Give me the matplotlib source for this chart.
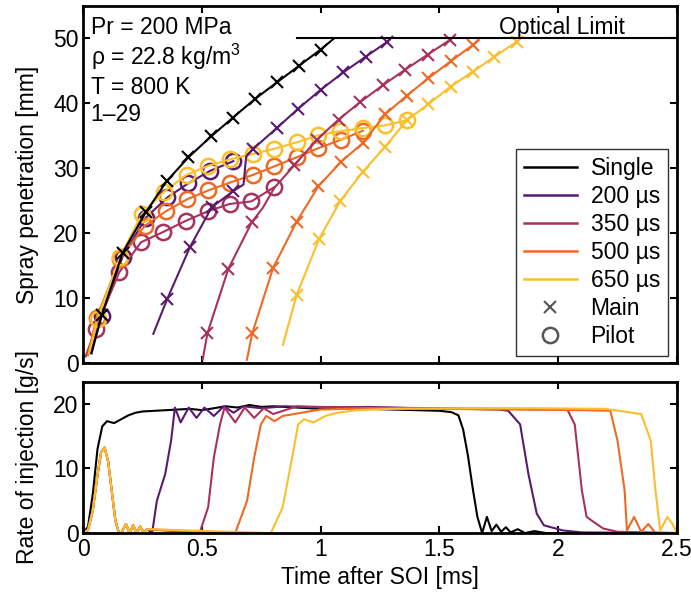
import numpy as np
import matplotlib
matplotlib.use('Agg')
import matplotlib.pyplot as plt
from matplotlib.lines import Line2D

plt.rcParams['font.family'] = ['Liberation Sans', 'DejaVu Sans']
plt.rcParams['mathtext.fontset'] = 'custom'
plt.rcParams['mathtext.rm'] = 'Liberation Sans'
plt.rcParams['mathtext.it'] = 'Liberation Sans:italic'
plt.rcParams['font.size'] = 16

labels = ['Single', '200 µs', '350 µs', '500 µs', '650 µs']
colors = ['black', '#5b1a70', '#a8325e', '#ee6a24', '#fbbf2c']

# spray penetration, main injection (line points and marker points)
single_t = [0.035, 0.0775, 0.166, 0.263, 0.351, 0.443, 0.538, 0.630, 0.724, 0.818, 0.909, 1.0, 1.056]
single_y = [1.5, 7.35, 17.0, 23.2, 28.0, 31.7, 34.9, 37.8, 40.7, 43.3, 45.8, 48.3, 50.0]
single_mk = [1, 2, 3, 4, 5, 6, 7, 8, 9, 10, 11]

main200_t = [0.295, 0.354, 0.450, 0.541, 0.632, 0.675, 0.686, 0.716, 0.815, 0.906, 1.0, 1.096, 1.19, 1.281, 1.29]
main200_y = [4.5, 9.9, 17.9, 24.0, 26.5, 27.5, 31.8, 33.0, 36.2, 39.2, 42.1, 44.8, 47.2, 49.5, 49.8]
main200_mk = [1, 2, 3, 4, 7, 8, 9, 10, 11, 12, 13]

main350_t = [0.503, 0.523, 0.611, 0.71, 0.756, 0.805, 0.868, 0.889, 0.984, 1.075, 1.166, 1.262, 1.356, 1.45, 1.545]
main350_y = [0.5, 4.6, 14.5, 21.7, 23.9, 27.0, 29.6, 30.5, 34.4, 37.5, 40.2, 42.8, 45.2, 47.5, 49.8]
main350_mk = [1, 2, 3, 7, 8, 9, 10, 11, 12, 13, 14]

main500_t = [0.689, 0.712, 0.80, 0.899, 0.99, 1.085, 1.178, 1.271, 1.363, 1.454, 1.548, 1.641, 1.665]
main500_y = [0.5, 4.6, 14.7, 21.8, 27.2, 31.0, 33.9, 38.3, 41.2, 43.9, 46.5, 49.0, 49.7]
main500_mk = [1, 2, 3, 4, 5, 6, 7, 8, 9, 10, 11]

main650_t = [0.841, 0.899, 0.993, 1.083, 1.178, 1.271, 1.363, 1.454, 1.548, 1.641, 1.732, 1.826, 1.84]
main650_y = [2.8, 10.5, 19.1, 25.0, 29.5, 33.3, 37.4, 39.9, 42.6, 44.9, 47.2, 49.5, 50.0]
main650_mk = [1, 2, 3, 4, 5, 6, 7, 8, 9, 10, 11]

# spray penetration, pilot injection (first point is line start only)
pilot200_t = [0.03, 0.0775, 0.166, 0.264, 0.354, 0.443, 0.534, 0.632]
pilot200_y = [1.5, 7.3, 16.4, 22.4, 25.5, 27.7, 29.6, 31.1]

pilot350_t = [0.01, 0.052, 0.152, 0.243, 0.337, 0.431, 0.527, 0.616, 0.708, 0.805]
pilot350_y = [1.0, 5.3, 14.0, 18.6, 20.2, 21.9, 23.4, 24.5, 24.9, 27.1]

pilot500_t = [0.02, 0.056, 0.155, 0.258, 0.349, 0.436, 0.527, 0.618, 0.716, 0.805, 0.899, 0.99, 1.086, 1.178]
pilot500_y = [1.2, 7.0, 16.0, 21.1, 23.4, 25.2, 26.6, 27.8, 29.0, 30.3, 31.7, 33.1, 34.4, 35.8]

pilot650_t = [0.025, 0.06, 0.155, 0.246, 0.34, 0.436, 0.527, 0.62, 0.714, 0.805, 0.899, 0.99, 1.08, 1.177, 1.27, 1.363]
pilot650_y = [1.5, 6.8, 16.3, 22.9, 26.4, 29.0, 30.4, 31.4, 32.2, 33.0, 34.0, 35.1, 35.7, 36.2, 36.6, 37.4]

# rate of injection
single_rt = [0.0, 0.02, 0.04, 0.06, 0.08, 0.1, 0.13, 0.16, 0.19, 0.22, 0.25, 0.3, 0.35, 0.4, 0.45,
             0.5, 0.55, 0.6, 0.65, 0.7, 0.75, 0.8, 0.9, 1.0, 1.1, 1.2, 1.3, 1.4, 1.5, 1.55, 1.58,
             1.6, 1.62, 1.64, 1.66, 1.68, 1.7, 1.72, 1.74, 1.76, 1.78, 1.8, 1.83, 1.86, 1.9, 1.95, 2.0, 2.5]
single_r = [0.0, 1.0, 6.0, 13.0, 16.5, 17.3, 17.0, 17.6, 18.2, 18.6, 18.8, 18.9, 19.0, 19.1, 19.2,
            19.0, 19.3, 19.6, 19.4, 19.8, 19.5, 19.6, 19.4, 19.2, 19.3, 19.2, 19.1, 19.0, 18.9, 18.7, 18.2,
            16.0, 12.0, 7.0, 2.5, 0.0, 2.5, 0.3, 1.3, 0.2, 0.9, 0.1, 0.6, 0.0, 0.3, 0.0, 0.0, 0.0]

pilot_rt = [0.0, 0.02, 0.04, 0.06, 0.075, 0.09, 0.105, 0.12, 0.135, 0.15, 0.16, 0.18, 0.195, 0.21,
            0.225, 0.24, 0.255, 0.27]
pilot_r = [0.0, 0.5, 3.5, 9.0, 12.5, 13.2, 11.0, 6.5, 2.0, 0.0, 0.0, 1.4, 0.0, 1.2, 0.0, 1.0, 0.0, 0.6]

main200_rt = [0.29, 0.31, 0.345, 0.37, 0.386, 0.41, 0.444, 0.477, 0.51, 0.55, 0.592, 0.633, 0.674,
              0.75, 0.85, 1.0, 1.2, 1.4, 1.6, 1.75, 1.79, 1.84, 1.875, 1.91, 1.94, 1.98, 2.02, 2.1, 2.5]
main200_r = [0.0, 5.0, 9.1, 14.3, 19.4, 17.1, 19.4, 17.8, 19.4, 18.1, 19.6, 18.6, 19.6,
             19.3, 19.6, 19.4, 19.5, 19.3, 19.2, 19.1, 18.9, 16.8, 9.1, 3.0, 1.2, 0.8, 0.4, 0.1, 0.0]

main350_rt = [0.49, 0.526, 0.55, 0.576, 0.595, 0.64, 0.68, 0.72, 0.76, 0.8, 0.9, 1.0, 1.2, 1.5, 1.8,
              2.0, 2.04, 2.07, 2.1, 2.12, 2.15, 2.19, 2.25, 2.5]
main350_r = [0.0, 4.0, 11.7, 16.8, 19.4, 17.1, 19.4, 17.8, 19.3, 18.4, 19.6, 19.5, 19.4, 19.3, 19.2,
             19.1, 19.0, 16.8, 6.6, 2.5, 1.7, 0.7, 0.2, 0.0]

main500_rt = [0.64, 0.69, 0.72, 0.748, 0.77, 0.806, 0.84, 0.888, 0.95, 1.0, 1.2, 1.5, 1.8, 2.1, 2.22,
              2.25, 2.28, 2.29, 2.32, 2.35, 2.38, 2.41, 2.5]
main500_r = [0.0, 5.0, 11.7, 16.8, 18.1, 17.3, 18.1, 18.4, 18.8, 19.1, 19.3, 19.2, 19.1, 19.0, 18.9,
             14.3, 6.6, 0.4, 2.5, 0.2, 1.4, 0.0, 0.0]

main650_rt = [0.79, 0.84, 0.88, 0.905, 0.93, 0.97, 1.02, 1.07, 1.15, 1.3, 1.6, 1.9, 2.2, 2.35, 2.39,
              2.41, 2.43, 2.46, 2.48, 2.5]
main650_r = [0.0, 4.0, 11.7, 16.8, 17.6, 17.1, 18.1, 18.6, 19.0, 19.2, 19.3, 19.3, 19.2, 18.4, 14.3,
             6.6, 0.4, 2.5, 1.5, 0.0]

main_t = [single_t, main200_t, main350_t, main500_t, main650_t]
main_y = [single_y, main200_y, main350_y, main500_y, main650_y]
main_mk = [single_mk, main200_mk, main350_mk, main500_mk, main650_mk]
pilot_t = [pilot200_t, pilot350_t, pilot500_t, pilot650_t]
pilot_y = [pilot200_y, pilot350_y, pilot500_y, pilot650_y]
main_rt = [main200_rt, main350_rt, main500_rt, main650_rt]
main_r = [main200_r, main350_r, main500_r, main650_r]

fig = plt.figure(figsize=(6.91, 6.03), dpi=100)
ax1 = fig.add_axes([0.1205, 0.398, 0.859, 0.592])
ax2 = fig.add_axes([0.1205, 0.116, 0.859, 0.251])

# pilot penetration first, main on top
for i in range(4):
    ax1.plot(pilot_t[i], pilot_y[i], color=colors[i + 1], lw=1.5, marker='o', ms=11,
             mfc='none', mew=1.8, markevery=list(range(1, len(pilot_t[i]))))
for i in range(5):
    ax1.plot(main_t[i], main_y[i], color=colors[i], lw=1.5, marker='x', ms=8, mew=1.5,
             markevery=main_mk[i], label=labels[i])

ax1.plot([0.9, 2.5], [50, 50], color='black', lw=1.5)
ax1.text(1.749, 50.66, 'Optical Limit', ha='left', va='baseline', fontsize=16.5)

info = ['Pr = 200 MPa', r'ρ = 22.8 kg/m$^3$', 'T = 800 K', '1–29']
info_y = [0.921, 0.835, 0.754, 0.679]
for s, yy in zip(info, info_y):
    ax1.text(0.0125, yy, s, transform=ax1.transAxes, ha='left', va='baseline', fontsize=16.5)

ax1.set_xlim(0, 2.5)
ax1.set_ylim(0, 55)
ax1.set_yticks([0, 10, 20, 30, 40, 50])
ax1.set_xticks([0, 0.5, 1, 1.5, 2, 2.5])
ax1.set_xticklabels([])
ax1.set_ylabel('Spray penetration [mm]', fontsize=16.5)

handles = [Line2D([], [], color=c, lw=1.8) for c in colors]
handles.append(Line2D([], [], color='#555555', ls='none', marker='x', ms=8, mew=1.5))
handles.append(Line2D([], [], color='#555555', ls='none', marker='o', ms=11, mfc='none', mew=1.8))
leg = ax1.legend(handles, labels + ['Main', 'Pilot'], loc='lower right',
                 bbox_to_anchor=(0.985, 0.02), fontsize=16.5, frameon=True, fancybox=False,
                 edgecolor='black', labelspacing=0.22, handlelength=2.3, handletextpad=0.6,
                 borderpad=0.35, borderaxespad=0)
leg.get_frame().set_linewidth(1.0)

# injection rate
ax2.plot(single_rt, single_r, color=colors[0], lw=1.5)
for i in range(4):
    ax2.plot(pilot_rt + main_rt[i], pilot_r + main_r[i], color=colors[i + 1], lw=1.5)
ax2.set_xlim(0, 2.5)
ax2.set_ylim(0, 23.4)
ax2.set_yticks([0, 10, 20])
ax2.set_xticks([0, 0.5, 1, 1.5, 2, 2.5])
ax2.set_xticklabels(['0', '0.5', '1', '1.5', '2', '2.5'])
ax2.set_xlabel('Time after SOI [ms]', fontsize=16.5)
ax2.set_ylabel('Rate of injection [g/s]', fontsize=16.5)

for ax in (ax1, ax2):
    ax.tick_params(direction='in', top=True, right=True, length=5, width=1.5, labelsize=16.5)
    for sp in ax.spines.values():
        sp.set_linewidth(2)
    ax.yaxis.set_label_coords(-0.075, 0.5)

fig.savefig('out.png', dpi=100)
